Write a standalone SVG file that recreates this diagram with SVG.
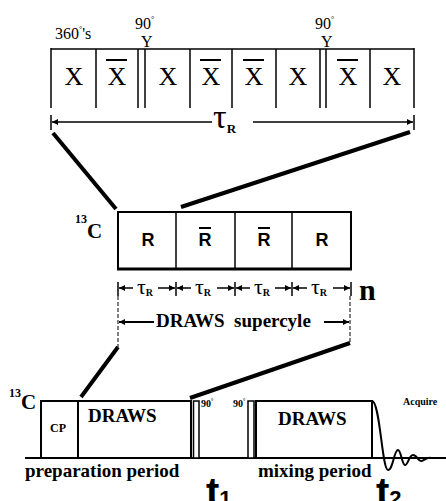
<svg xmlns="http://www.w3.org/2000/svg" width="446" height="501" viewBox="0 0 446 501">
<defs>
<marker id="ah" viewBox="0 0 10 10" refX="10" refY="5" markerWidth="8" markerHeight="6" markerUnits="userSpaceOnUse" orient="auto-start-reverse"><path d="M0,0 L10,5 L0,10 z" fill="#000"/></marker>
<marker id="ahs" viewBox="0 0 10 10" refX="10" refY="5" markerWidth="7" markerHeight="6" markerUnits="userSpaceOnUse" orient="auto-start-reverse"><path d="M0,0 L10,5 L0,10 z" fill="#000"/></marker>
</defs>
<style>
.ln{stroke:#000;stroke-width:1.5;fill:none}
.bx{stroke:#000;stroke-width:2;fill:#fff}
.pl{stroke:#000;stroke-width:1.5;fill:#fff}
.thick{stroke:#000;stroke-width:4;fill:none;stroke-linecap:butt}
.ser{font-family:"Liberation Serif",serif;fill:#000}
.serb{font-family:"Liberation Serif",serif;font-weight:bold;fill:#000}
.sans{font-family:"Liberation Sans",sans-serif;font-weight:bold;fill:#000}
.X{font-family:"Liberation Serif",serif;font-size:26px;text-anchor:middle}
.R{font-family:"Liberation Sans",sans-serif;font-weight:bold;font-size:18px;text-anchor:middle}
.bar{stroke:#000;stroke-width:2}
.dash{stroke:#000;stroke-width:1;stroke-dasharray:4,2;fill:none}
</style>

<g id="top-sequence">
<line class="ln" x1="51" y1="49" x2="414" y2="49"/>
<line class="ln" x1="51" y1="48" x2="51" y2="108"/>
<line class="ln" x1="96" y1="49" x2="96" y2="108"/>
<line class="ln" x1="138" y1="49" x2="138" y2="108"/>
<line class="ln" x1="145" y1="49" x2="145" y2="108"/>
<line class="ln" x1="190" y1="49" x2="190" y2="108"/>
<line class="ln" x1="232" y1="49" x2="232" y2="108"/>
<line class="ln" x1="276" y1="49" x2="276" y2="108"/>
<line class="ln" x1="320" y1="49" x2="320" y2="108"/>
<line class="ln" x1="326" y1="49" x2="326" y2="108"/>
<line class="ln" x1="370" y1="49" x2="370" y2="108"/>
<line class="ln" x1="414" y1="48" x2="414" y2="108"/>
<text class="X" x="74" y="85">X</text>
<text class="X" x="117" y="85">X</text><line class="bar" x1="106" y1="60" x2="127" y2="60"/>
<text class="X" x="168" y="85">X</text>
<text class="X" x="211" y="85">X</text><line class="bar" x1="200" y1="60" x2="221" y2="60"/>
<text class="X" x="254" y="85">X</text><line class="bar" x1="243" y1="60" x2="264" y2="60"/>
<text class="X" x="298" y="85">X</text>
<text class="X" x="348" y="85">X</text><line class="bar" x1="337" y1="60" x2="358" y2="60"/>
<text class="X" x="392" y="85">X</text>
<text class="ser" x="55" y="39" font-size="16">360<tspan font-size="8" dy="-7">°</tspan><tspan dy="7">'s</tspan></text>
<text class="ser" x="135" y="29" font-size="16">90<tspan font-size="8" dy="-7">°</tspan></text>
<text class="ser" x="141" y="47" font-size="16">Y</text>
<text class="ser" x="315" y="29" font-size="16">90<tspan font-size="8" dy="-7">°</tspan></text>
<text class="ser" x="321" y="47" font-size="16">Y</text>
</g>

<g id="top-tau">
<line class="ln" x1="51" y1="115" x2="51" y2="130"/>
<line class="ln" x1="414" y1="115" x2="414" y2="130"/>
<line class="ln" x1="212" y1="122" x2="52" y2="122" marker-end="url(#ah)"/>
<line class="ln" x1="253" y1="122" x2="413" y2="122" marker-end="url(#ah)"/>
<text class="ser" x="213" y="128" font-size="34">τ<tspan class="serb" font-size="13" dy="5">R</tspan></text>
</g>

<g id="middle-sequence">
<text class="serb" x="75" y="223" font-size="12">13</text>
<text class="serb" x="87" y="238" font-size="21">C</text>
<rect class="bx" x="118" y="212" width="233" height="57"/>
<line stroke="#000" stroke-width="3" x1="117" y1="269" x2="352" y2="269"/>
<line class="ln" x1="176" y1="212" x2="176" y2="269"/>
<line class="ln" x1="235" y1="212" x2="235" y2="269"/>
<line class="ln" x1="292" y1="212" x2="292" y2="269"/>
<text class="R" x="148" y="246">R</text>
<text class="R" x="205" y="246">R</text><line class="bar" x1="199" y1="228" x2="211" y2="228"/>
<text class="R" x="264" y="246">R</text><line class="bar" x1="258" y1="228" x2="270" y2="228"/>
<text class="R" x="322" y="246">R</text>
</g>

<g id="middle-tau">
<line class="ln" x1="118" y1="282" x2="118" y2="296"/>
<line class="ln" x1="176" y1="282" x2="176" y2="296"/>
<line class="ln" x1="235" y1="282" x2="235" y2="296"/>
<line class="ln" x1="292" y1="282" x2="292" y2="296"/>
<line class="ln" x1="351" y1="282" x2="351" y2="296"/>
<line class="ln" x1="133" y1="288" x2="119" y2="288" marker-end="url(#ahs)"/>
<line class="ln" x1="158" y1="288" x2="175" y2="288" marker-end="url(#ahs)"/>
<text class="ser" x="137" y="294" font-size="22">τ<tspan class="serb" font-size="10" dy="2">R</tspan></text>
<line class="ln" x1="191" y1="288" x2="177" y2="288" marker-end="url(#ahs)"/>
<line class="ln" x1="217" y1="288" x2="234" y2="288" marker-end="url(#ahs)"/>
<text class="ser" x="195" y="294" font-size="22">τ<tspan class="serb" font-size="10" dy="2">R</tspan></text>
<line class="ln" x1="250" y1="288" x2="236" y2="288" marker-end="url(#ahs)"/>
<line class="ln" x1="275" y1="288" x2="291" y2="288" marker-end="url(#ahs)"/>
<text class="ser" x="254" y="294" font-size="22">τ<tspan class="serb" font-size="10" dy="2">R</tspan></text>
<line class="ln" x1="307" y1="288" x2="293" y2="288" marker-end="url(#ahs)"/>
<line class="ln" x1="333" y1="288" x2="350" y2="288" marker-end="url(#ahs)"/>
<text class="ser" x="311" y="294" font-size="22">τ<tspan class="serb" font-size="10" dy="2">R</tspan></text>
<text class="serb" x="359" y="300" font-size="30">n</text>
<line class="dash" x1="118" y1="296" x2="118" y2="347"/>
<line class="dash" x1="350" y1="296" x2="350" y2="343"/>
<line stroke="#000" stroke-width="2" x1="154" y1="322" x2="119" y2="322" marker-end="url(#ah)"/>
<line stroke="#000" stroke-width="2" x1="324" y1="322" x2="349" y2="322" marker-end="url(#ah)"/>
<text class="serb" x="156" y="327" font-size="19" xml:space="preserve">DRAWS  supercyle</text>
</g>

<g id="connectors">
<line class="thick" x1="53" y1="133" x2="116" y2="209"/>
<line class="thick" x1="410" y1="132" x2="181" y2="207"/>
<line class="thick" x1="118" y1="347" x2="81" y2="397"/>
<line class="thick" x1="350" y1="343" x2="190" y2="398"/>
</g>

<g id="bottom-sequence">
<text class="serb" x="9" y="397" font-size="12">13</text>
<text class="serb" x="21" y="409" font-size="21">C</text>
<line stroke="#000" stroke-width="2" x1="25" y1="458" x2="446" y2="458"/>
<rect class="bx" x="41" y="401" width="37" height="57"/>
<rect class="bx" x="78" y="401" width="113" height="57"/>
<rect class="pl" x="193.5" y="401" width="5.5" height="57"/>
<rect class="pl" x="248" y="401" width="6" height="57"/>
<rect class="bx" x="256" y="401" width="116" height="57"/>
<text class="serb" x="50" y="432" font-size="12">CP</text>
<text class="serb" x="88" y="422" font-size="19">DRAWS</text>
<text class="serb" x="278" y="425" font-size="19">DRAWS</text>
<text class="serb" x="201" y="407" font-size="10">90<tspan font-size="6" dy="-4">°</tspan></text>
<text class="serb" x="233" y="407" font-size="10">90<tspan font-size="6" dy="-4">°</tspan></text>
<text class="serb" x="403" y="405" font-size="10">Acquire</text>
<path d="M372,401 C380,401 382,470 388,470 C393,470 394,450 398,450 C401,450 402,465 405,465 C408,465 409,455 413,455 C417,455 418,461 421,461 C424,461 426,457 431,458 L446,458" stroke="#000" stroke-width="2" fill="none"/>
<text class="serb" x="25" y="477" font-size="19">preparation period</text>
<text class="serb" x="258" y="477" font-size="19">mixing period</text>
<text class="sans" x="206" y="506" font-size="40">t<tspan font-size="22">1</tspan></text>
<text class="sans" x="376" y="506" font-size="40">t<tspan font-size="22">2</tspan></text>
</g>
</svg>
